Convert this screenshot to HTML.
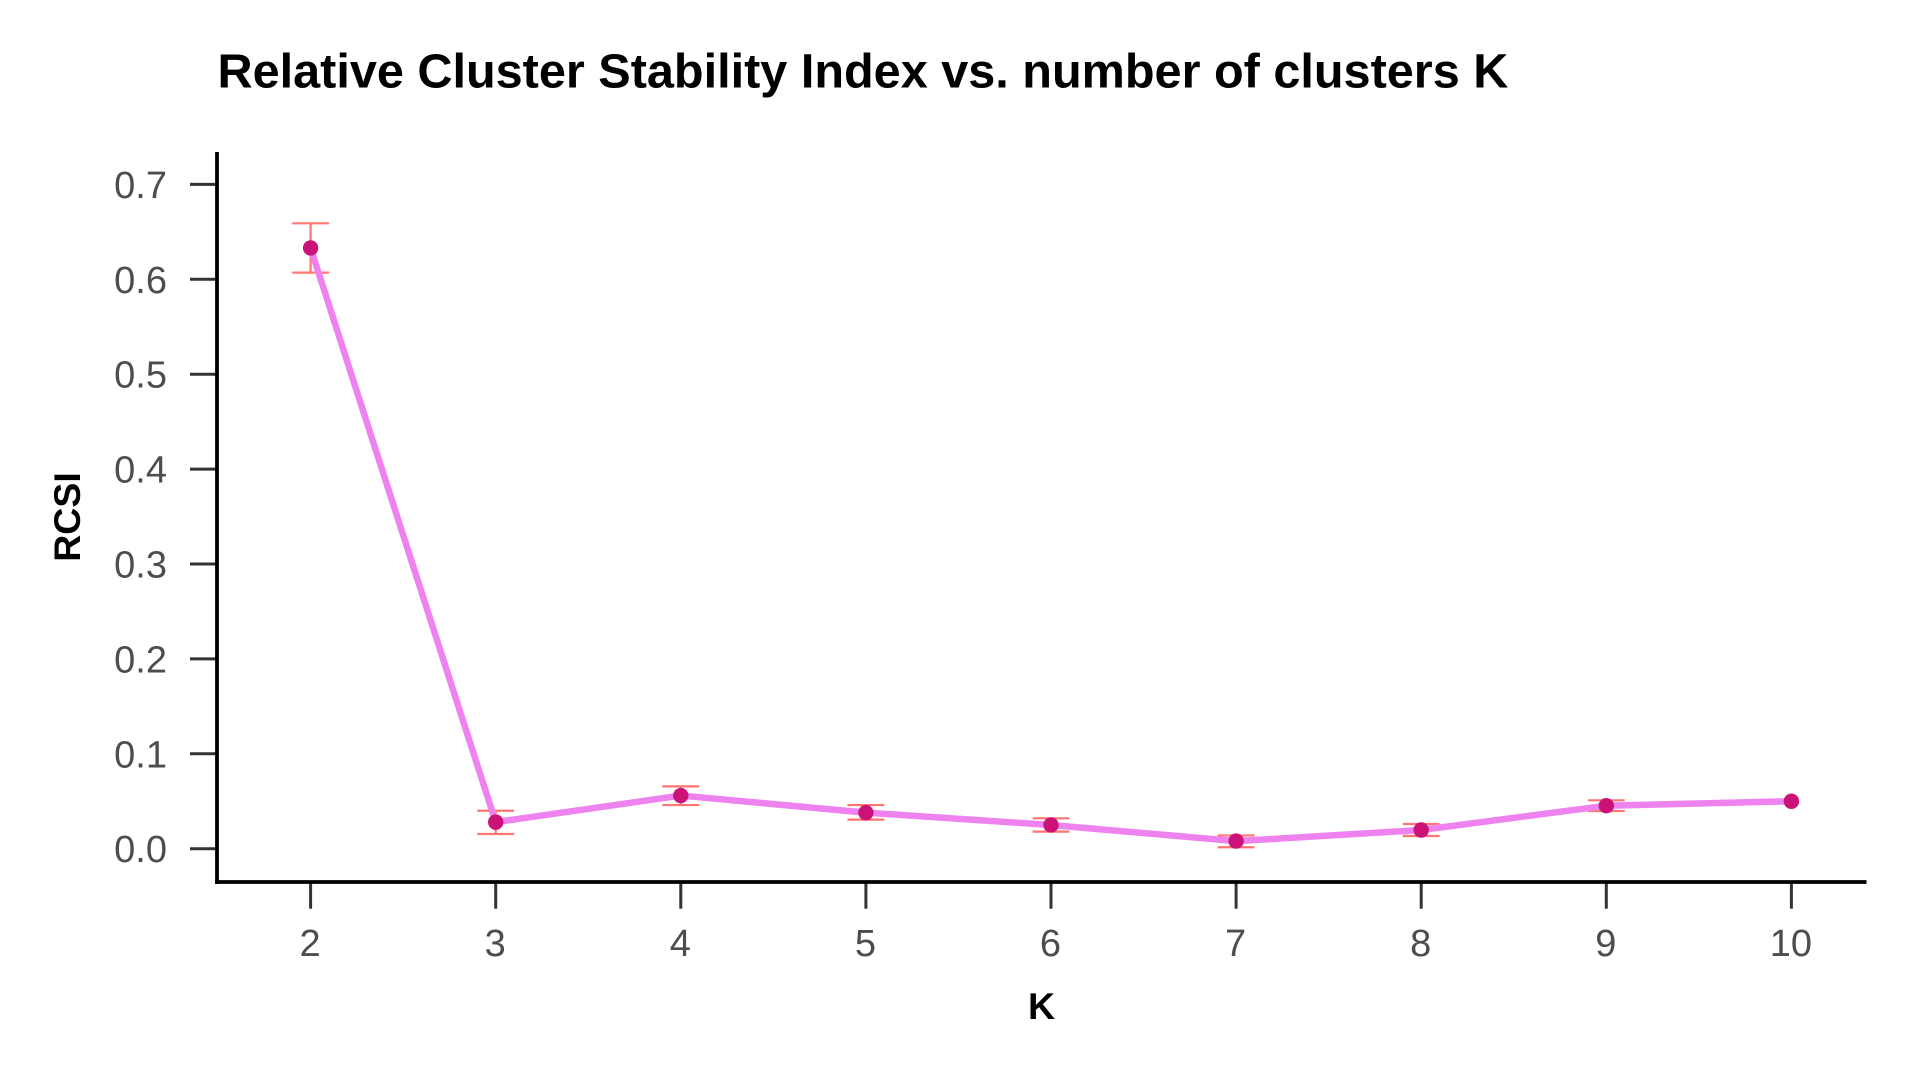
<!DOCTYPE html>
<html lang="en">
<head>
<meta charset="utf-8">
<title>Relative Cluster Stability Index vs. number of clusters K</title>
<style>
html,body{margin:0;padding:0;background:#fff;width:1920px;height:1080px;overflow:hidden}
svg{display:block}
text{font-family:"Liberation Sans",Arial,sans-serif}
</style>
</head>
<body>
<svg id="chart" xmlns="http://www.w3.org/2000/svg" width="1920" height="1080" viewBox="0 0 1920 1080">
<rect x="0" y="0" width="1920" height="1080" fill="#ffffff"/>
<text x="217.5" y="87.3" font-size="48.6" font-weight="700" fill="#000000">Relative Cluster Stability Index vs. number of clusters K</text>
<text transform="translate(80,517) rotate(-90)" text-anchor="middle" font-size="37.5" font-weight="700" fill="#000000">RCSI</text>
<text x="1041.5" y="1019" text-anchor="middle" font-size="37.5" font-weight="700" fill="#000000">K</text>
<g id="y-ticks"></g>
<g id="x-ticks"></g>
<g id="errors"></g>
<polyline id="series-line" fill="none" stroke="#ee82ee" stroke-width="6.5" stroke-linejoin="round"/>
<g id="points"></g>
<line x1="217" y1="152" x2="217" y2="884" stroke="#000000" stroke-width="3.8"/>
<line x1="215.1" y1="882" x2="1866.5" y2="882" stroke="#000000" stroke-width="3.8"/>
</svg>
<script>
var categories = [2, 3, 4, 5, 6, 7, 8, 9, 10];
var rcsiValues = [0.633, 0.028, 0.056, 0.038, 0.025, 0.008, 0.0197, 0.0453, 0.05];
var errorUpper = [0.659, 0.040, 0.0657, 0.046, 0.032, 0.014, 0.026, 0.051, 0.05];
var errorLower = [0.607, 0.0155, 0.046, 0.0306, 0.018, 0.0015, 0.0134, 0.0397, 0.05];
var yTickValues = [0, 0.1, 0.2, 0.3, 0.4, 0.5, 0.6, 0.7];
var yTickLabels = ['0.0', '0.1', '0.2', '0.3', '0.4', '0.5', '0.6', '0.7'];
var xTickLabels = ['2', '3', '4', '5', '6', '7', '8', '9', '10'];

var NS = 'http://www.w3.org/2000/svg';
function xScale(k) { return 310.6 + (k - 2) * 185.1; }
function yScale(v) { return 848.7 - v * 949; }
function make(tag, parent) {
  var el = document.createElementNS(NS, tag);
  parent.appendChild(el);
  return el;
}
function setLine(el, x1, y1, x2, y2, color, width) {
  el.setAttribute('x1', x1);
  el.setAttribute('y1', y1);
  el.setAttribute('x2', x2);
  el.setAttribute('y2', y2);
  el.setAttribute('stroke', color);
  el.setAttribute('stroke-width', width);
}
var yTicksGroup = document.getElementById('y-ticks');
yTickValues.forEach(function (v, i) {
  var y = yScale(v);
  var tick = make('line', yTicksGroup);
  
  
  setLine(tick, 190, y, 217, y, '#333333', 3);
  var label = make('text', yTicksGroup);
  
  
  label.setAttribute('x', 167);
  label.setAttribute('y', y + 13.5);
  label.setAttribute('text-anchor', 'end');
  label.setAttribute('font-size', '38');
  label.setAttribute('fill', '#4d4d4d');
  label.textContent = yTickLabels[i];
});
var xTicksGroup = document.getElementById('x-ticks');
categories.forEach(function (k, i) {
  var x = xScale(k);
  var tick = make('line', xTicksGroup);
  
  
  setLine(tick, x, 882, x, 908.7, '#333333', 3);
  var label = make('text', xTicksGroup);
  
  
  label.setAttribute('x', x - 0.5);
  label.setAttribute('y', 956);
  label.setAttribute('text-anchor', 'middle');
  label.setAttribute('font-size', '38');
  label.setAttribute('fill', '#4d4d4d');
  label.textContent = xTickLabels[i];
});
var errorsGroup = document.getElementById('errors');
var pointsGroup = document.getElementById('points');
var errColor = '#ff7570';
categories.forEach(function (k, i) {
  var x = xScale(k);
  var top = yScale(errorUpper[i]);
  var bottom = yScale(errorLower[i]);
  if (errorUpper[i] > errorLower[i]) {
    var stem = make('line', errorsGroup);
    
    
    setLine(stem, x, top, x, bottom, errColor, 2.2);
    var capTop = make('line', errorsGroup);
    
    
    setLine(capTop, x - 18.4, top, x + 18.4, top, errColor, 2.2);
    var capBottom = make('line', errorsGroup);
    
    
    setLine(capBottom, x - 18.4, bottom, x + 18.4, bottom, errColor, 2.2);
  }
  var dot = make('circle', pointsGroup);
  
  
  dot.setAttribute('cx', x);
  dot.setAttribute('cy', yScale(rcsiValues[i]));
  dot.setAttribute('r', 7.7);
  dot.setAttribute('fill', '#cb1277');
});
document.getElementById('series-line').setAttribute('points', categories.map(function (k, i) {
  return xScale(k) + ',' + yScale(rcsiValues[i]);
}).join(' '));
</script>
</body>
</html>
